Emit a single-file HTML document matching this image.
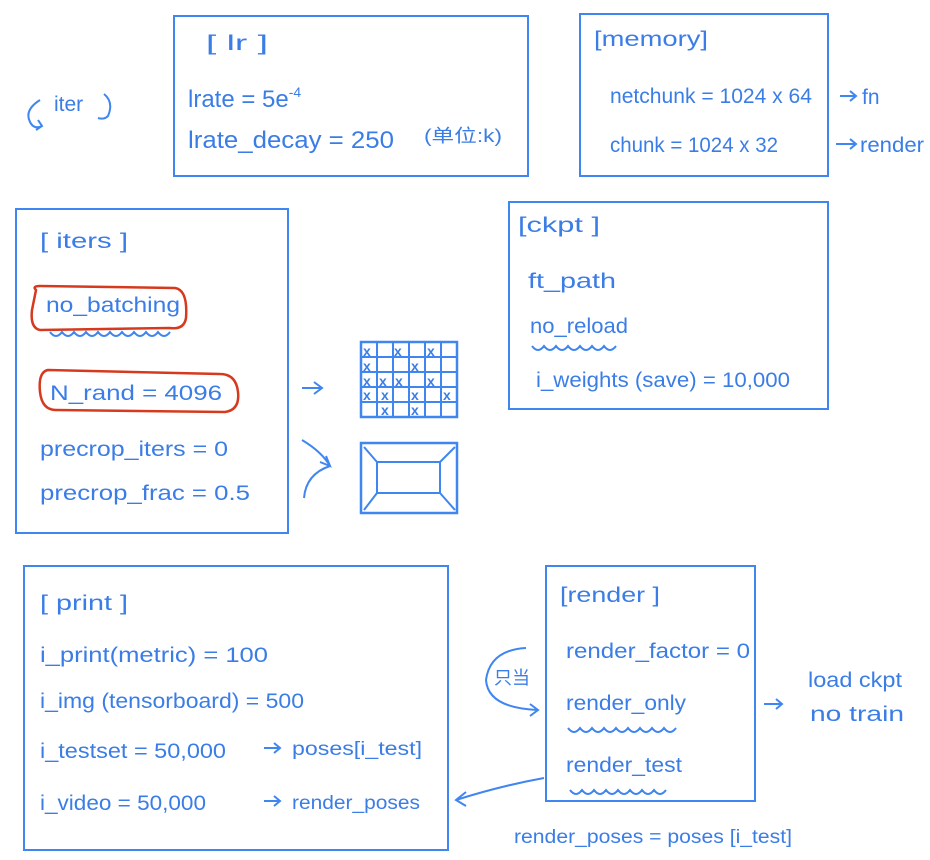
<!DOCTYPE html>
<html><head><meta charset="utf-8"><style>
html,body{margin:0;padding:0;background:#fff;}
svg{display:block}
text{font-family:"Liberation Sans","Noto Sans CJK SC",sans-serif;fill:#3b7de6;font-size:21px;}
</style></head><body>
<svg width="930" height="860" viewBox="0 0 930 860" xmlns="http://www.w3.org/2000/svg">
<g fill="none" stroke="#3f86f0" stroke-width="2">
<rect x="174" y="16" width="354" height="160"/>
<rect x="580" y="14" width="248" height="162"/>
<rect x="16" y="209" width="272" height="324"/>
<rect x="509" y="202" width="319" height="207"/>
<rect x="24" y="566" width="424" height="284"/>
<rect x="546" y="566" width="209" height="235"/>
</g>
<g fill="none" stroke="#d63a1e" stroke-width="2.5">
<path d="M36 290 Q32 286 40 286 L175 288 Q188 290 186 318 Q184 330 170 328 L40 330 Q30 328 32 310 Z"/>
<path d="M48 370 Q38 372 40 392 Q42 410 56 410 L225 412 Q240 410 238 392 Q236 374 220 374 Z"/>
</g>
<g fill="none" stroke="#3f86f0" stroke-width="2">
<path d="M50 332 q6 8 12 0 q6 8 12 0 q6 8 12 0 q6 8 12 0 q6 8 12 0 q6 8 12 0 q6 8 12 0 q6 8 12 0 q6 8 12 0 q6 8 12 0"/>
<path d="M532 346 q6 8 12 0 q6 8 12 0 q6 8 12 0 q6 8 12 0 q6 8 12 0 q6 8 12 0 q6 8 12 0"/>
<path d="M568 728 q6 8 12 0 q6 8 12 0 q6 8 12 0 q6 8 12 0 q6 8 12 0 q6 8 12 0 q6 8 12 0 q6 8 12 0 q6 8 12 0"/>
<path d="M570 790 q6 8 12 0 q6 8 12 0 q6 8 12 0 q6 8 12 0 q6 8 12 0 q6 8 12 0 q6 8 12 0 q6 8 12 0"/>
<rect x="361" y="342" width="96" height="75" stroke-width="2.5"/>
<path d="M361 357H457M361 372H457M361 387H457M361 402H457M377 342V417M393 342V417M409 342V417M425 342V417M441 342V417"/>
<rect x="361" y="443" width="96" height="70" stroke-width="2.5"/>
<rect x="377" y="462" width="63" height="31"/>
<path d="M364 447L377 462M455 447L440 462M364 510L377 493M455 510L440 493"/>
<path d="M302 388L322 388M314 382L322 388L314 394"/>
<path d="M302 440Q322 452 330 466M304 498Q306 474 330 466M320 462L330 466L326 456"/>
<path d="M40 100Q24 110 30 122Q34 130 42 126M36 130L42 126L38 120M104 94Q114 102 108 116Q104 120 98 118"/>
<path d="M840 96L856 96M850 91L856 96L850 101M836 144L856 144M850 139L856 144L850 149"/>
<path d="M264 748L280 748M274 743L280 748L274 753M264 801L280 801M274 796L280 801L274 806"/>
<path d="M764 704L782 704M776 699L782 704L776 709"/>
<path d="M544 778Q500 786 456 800M466 792L456 800L466 806"/>
<path d="M526 648Q490 650 486 680Q488 708 538 710M530 704L538 710L530 716"/>
</g>
<g style="font-weight:bold">
<text x="363" y="356" style="font-size:14px">x</text><text x="394" y="356" style="font-size:14px">x</text><text x="427" y="356" style="font-size:14px">x</text>
<text x="363" y="371" style="font-size:14px">x</text><text x="411" y="371" style="font-size:14px">x</text>
<text x="363" y="386" style="font-size:14px">x</text><text x="379" y="386" style="font-size:14px">x</text><text x="395" y="386" style="font-size:14px">x</text><text x="427" y="386" style="font-size:14px">x</text>
<text x="363" y="400" style="font-size:14px">x</text><text x="381" y="400" style="font-size:14px">x</text><text x="411" y="400" style="font-size:14px">x</text><text x="443" y="400" style="font-size:14px">x</text>
<text x="381" y="415" style="font-size:14px">x</text><text x="411" y="415" style="font-size:14px">x</text>
</g>
<text x="206" y="50" textLength="62" lengthAdjust="spacingAndGlyphs">[ lr ]</text>
<text x="188" y="107" style="font-size:24px">lrate = 5e<tspan dy="-10" style="font-size:14px">-4</tspan></text>
<text x="188" y="148" style="font-size:24px" textLength="206" lengthAdjust="spacingAndGlyphs">lrate_decay = 250</text>
<text x="424" y="142" style="font-size:18px" textLength="78" lengthAdjust="spacingAndGlyphs">(单位:k)</text>
<text x="594" y="46" textLength="114" lengthAdjust="spacingAndGlyphs">[memory]</text>
<text x="610" y="103" textLength="202" lengthAdjust="spacingAndGlyphs">netchunk = 1024 x 64</text>
<text x="610" y="152" textLength="168" lengthAdjust="spacingAndGlyphs">chunk =  1024 x 32</text>
<text x="862" y="104">fn</text>
<text x="860" y="152" textLength="64" lengthAdjust="spacingAndGlyphs">render</text>
<text x="54" y="111">iter</text>
<text x="40" y="248" textLength="88" lengthAdjust="spacingAndGlyphs">[ iters ]</text>
<text x="46" y="312" textLength="134" lengthAdjust="spacingAndGlyphs">no_batching</text>
<text x="50" y="400" textLength="172" lengthAdjust="spacingAndGlyphs">N_rand = 4096</text>
<text x="40" y="456" textLength="188" lengthAdjust="spacingAndGlyphs">precrop_iters = 0</text>
<text x="40" y="500" textLength="210" lengthAdjust="spacingAndGlyphs">precrop_frac = 0.5</text>
<text x="518" y="232" textLength="82" lengthAdjust="spacingAndGlyphs">[ckpt ]</text>
<text x="528" y="288" textLength="88" lengthAdjust="spacingAndGlyphs">ft_path</text>
<text x="530" y="333" textLength="98" lengthAdjust="spacingAndGlyphs">no_reload</text>
<text x="536" y="387" textLength="254" lengthAdjust="spacingAndGlyphs">i_weights (save) = 10,000</text>
<text x="40" y="610" textLength="88" lengthAdjust="spacingAndGlyphs">[ print ]</text>
<text x="40" y="662" textLength="228" lengthAdjust="spacingAndGlyphs">i_print(metric) = 100</text>
<text x="40" y="708" textLength="264" lengthAdjust="spacingAndGlyphs">i_img (tensorboard) = 500</text>
<text x="40" y="758" textLength="186" lengthAdjust="spacingAndGlyphs">i_testset = 50,000</text>
<text x="40" y="810" textLength="166" lengthAdjust="spacingAndGlyphs">i_video = 50,000</text>
<text x="292" y="755" style="font-size:19px" textLength="130" lengthAdjust="spacingAndGlyphs">poses[i_test]</text>
<text x="292" y="809" style="font-size:19px" textLength="128" lengthAdjust="spacingAndGlyphs">render_poses</text>
<text x="560" y="602" textLength="100" lengthAdjust="spacingAndGlyphs">[render ]</text>
<text x="566" y="658" textLength="184" lengthAdjust="spacingAndGlyphs">render_factor = 0</text>
<text x="566" y="710" textLength="120" lengthAdjust="spacingAndGlyphs">render_only</text>
<text x="566" y="772" textLength="116" lengthAdjust="spacingAndGlyphs">render_test</text>
<text x="494" y="684" style="font-size:18px">只当</text>
<text x="808" y="687" textLength="94" lengthAdjust="spacingAndGlyphs">load ckpt</text>
<text x="810" y="721" textLength="94" lengthAdjust="spacingAndGlyphs">no train</text>
<text x="514" y="843" style="font-size:19px" textLength="278" lengthAdjust="spacingAndGlyphs">render_poses = poses [i_test]</text>
</svg>
</body></html>
